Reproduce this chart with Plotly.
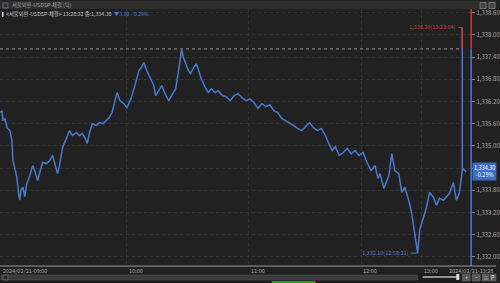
import plotly.graph_objects as go

# ---- data (tick sequence number vs. traded price) ----
tick_no = [0,2,3,5,7,10,12,13,15,17,19,20,21,23,25,27,30,33,35,38,40,43,47,50,53,55,58,60,63,66,70,73,77,80,83,86,88,90,93,97,100,104,107,110,113,116,118,121,125,128,132,135,137,140,143,145,148,150,153,155,157,160,163,166,170,173,177,180,183,185,187,190,192,195,198,200,203,207,210,213,217,220,224,228,232,236,240,244,248,252,256,260,264,268,272,276,280,284,288,292,296,300,304,308,312,316,320,324,328,331,335,338,342,346,350,354,358,362,366,370,374,378,381,383,387,390,392,395,398,402,405,408,412,415,418,421,423,427,430,433,437,440,443,447,450,453,457,460,463,466,466,466,470]
price = [1335.90,1335.95,1335.68,1335.74,1335.49,1335.41,1335.14,1334.60,1334.39,1334.15,1333.66,1333.53,1333.80,1333.88,1333.63,1333.98,1334.20,1334.47,1334.33,1334.06,1334.28,1334.55,1334.52,1334.60,1334.74,1334.55,1334.25,1334.47,1334.95,1335.14,1335.41,1335.28,1335.36,1335.28,1335.33,1335.20,1335.06,1335.33,1335.60,1335.55,1335.63,1335.60,1335.68,1335.76,1335.90,1336.22,1336.44,1336.22,1336.14,1336.03,1336.27,1336.54,1336.76,1337.03,1337.14,1337.25,1337.03,1336.92,1336.76,1336.63,1336.36,1336.49,1336.63,1336.44,1336.22,1336.36,1336.54,1337.03,1337.60,1337.38,1337.22,1337.03,1336.95,1337.11,1337.22,1337.03,1336.81,1336.57,1336.44,1336.54,1336.44,1336.49,1336.36,1336.33,1336.22,1336.36,1336.41,1336.30,1336.22,1336.27,1336.17,1336.01,1336.14,1336.06,1336.11,1335.95,1335.90,1335.74,1335.68,1335.63,1335.55,1335.47,1335.41,1335.52,1335.63,1335.49,1335.41,1335.47,1335.28,1335.09,1334.87,1334.98,1334.74,1334.82,1334.93,1334.79,1334.87,1334.74,1334.82,1334.55,1334.33,1334.47,1334.12,1334.25,1333.85,1334.06,1334.20,1334.79,1334.33,1334.25,1333.74,1333.88,1333.53,1333.18,1332.64,1332.10,1332.72,1333.07,1333.34,1333.74,1333.61,1333.39,1333.58,1333.53,1333.61,1333.71,1334.01,1333.53,1333.71,1334.33,1338.20,1334.39,1334.30]

base_price = 1337.62
high_price, high_tick, high_label = 1338.20, 466, "1,338.20(13:22:04)"
low_price, low_tick, low_label = 1332.10, 421, "1,332.10(12:58:21)"
last_price_text = "1,334.30"
last_pct_text = "-0.29%"
y_ticks = [1332.0, 1332.6, 1333.2, 1333.8, 1334.4, 1335.0, 1335.6, 1336.2, 1336.8, 1337.4, 1338.0, 1338.6]
x_tick_pos = [128, 251, 364, 425]
x_tick_txt = ["10:00", "11:00", "12:00", "13:00"]
x_first_label = "2024/02/21-09:00"
x_last_label = "2024/02/21-13:28"
title_txt = "서울외환-USDSP-체결 (틱)"
header_txt = "<서울외환-USDSP-체결> 13:28:32 종:1,334.30"
header_chg = "▼3.90  -0.29%"

W, H = 500, 283
def px(x): return x / W
def py(y): return 1 - y / H

BG = "#212121"
BLUE = "#4a7ad0"
RED = "#d23a3a"
TXT = "#a8a8a8"
FONT = "Noto Sans CJK KR, Noto Sans, sans-serif"

fig = go.Figure()
fig.add_trace(go.Scatter(x=tick_no, y=price, mode="lines",
                         line=dict(color=BLUE, width=1.5), hoverinfo="skip"))
fig.add_trace(go.Scatter(x=[high_tick, high_tick], y=[base_price, high_price], mode="lines",
                         line=dict(color=RED, width=1.5), hoverinfo="skip"))

shapes = []
shapes.append(dict(type="line", xref="x", yref="y", x0=0, x1=high_tick, y0=base_price, y1=base_price,
                   line=dict(color="#9a9a9a", width=1, dash="dot")))
shapes.append(dict(type="line", xref="paper", yref="y", x0=px(475), x1=px(475), y0=base_price, y1=1338.70,
                   line=dict(color=RED, width=1.5)))
shapes.append(dict(type="line", xref="paper", yref="y", x0=px(475), x1=px(475), y0=1331.75, y1=base_price,
                   line=dict(color=BLUE, width=1.5)))
shapes.append(dict(type="line", xref="paper", yref="paper", x0=0, x1=1, y0=py(266), y1=py(266),
                   line=dict(color="#9a9a9a", width=1)))
shapes.append(dict(type="line", xref="x", yref="y", x0=high_tick - 4, x1=high_tick, y0=high_price, y1=high_price,
                   line=dict(color=RED, width=1)))
shapes.append(dict(type="line", xref="x", yref="y", x0=low_tick - 7, x1=low_tick, y0=low_price, y1=low_price,
                   line=dict(color=BLUE, width=1)))
# title bar
shapes.append(dict(type="rect", xref="paper", yref="paper", x0=0, x1=1, y0=py(8), y1=1,
                   fillcolor="#2e2e2e", line=dict(width=0), layer="below"))
shapes.append(dict(type="rect", xref="paper", yref="paper", x0=px(3), x1=px(8), y0=py(7), y1=py(2),
                   fillcolor="rgba(0,0,0,0)", line=dict(color="#777", width=0.8)))
for x0 in (484, 493):
    shapes.append(dict(type="rect", xref="paper", yref="paper", x0=px(x0), x1=px(x0 + 6), y0=py(7.5), y1=py(1.5),
                       fillcolor="#444", line=dict(color="#999", width=0.6)))
shapes.append(dict(type="rect", xref="paper", yref="paper", x0=px(2), x1=px(3.5), y0=py(16), y1=py(11),
                   fillcolor="#ddd", line=dict(width=0)))
# bottom scroll strip
shapes.append(dict(type="rect", xref="paper", yref="paper", x0=0, x1=1, y0=0, y1=py(274),
                   fillcolor="#1c1c1c", line=dict(width=0), layer="below"))
shapes.append(dict(type="rect", xref="paper", yref="paper", x0=px(1), x1=px(421), y0=py(280), y1=py(275),
                   fillcolor="#3a3a3a", line=dict(color="#555", width=0.6)))
shapes.append(dict(type="rect", xref="paper", yref="paper", x0=px(3), x1=px(8), y0=py(280), y1=py(275),
                   fillcolor="#2a2a2a", line=dict(color="#888", width=0.6)))
shapes.append(dict(type="line", xref="paper", yref="paper", x0=px(426), x1=px(461), y0=py(277), y1=py(277),
                   line=dict(color="#bbb", width=1.5)))
shapes.append(dict(type="rect", xref="paper", yref="paper", x0=px(460), x1=px(463), y0=py(280), y1=py(274),
                   fillcolor="#ddd", line=dict(width=0)))
for x0, w in ((466, 8), (476, 8), (486, 7), (494, 6)):
    shapes.append(dict(type="rect", xref="paper", yref="paper", x0=px(x0), x1=px(x0 + w), y0=py(281), y1=py(274),
                       fillcolor="#555", line=dict(color="#777", width=0.5)))
shapes.append(dict(type="rect", xref="paper", yref="paper", x0=px(274), x1=px(318), y0=0, y1=py(281),
                   fillcolor="#1fa21f", line=dict(width=0)))

ann = []
ann.append(dict(xref="paper", yref="paper", x=px(10), y=py(4.5), text=title_txt, showarrow=False,
                xanchor="left", yanchor="middle", font=dict(size=5.3, color=TXT, family=FONT)))
ann.append(dict(xref="paper", yref="paper", x=px(4), y=py(13.5),
                text=header_txt + "  <span style='color:#4a78d8'>" + header_chg + "</span>", showarrow=False,
                xanchor="left", yanchor="middle", font=dict(size=5.3, color="#c8c8c8", family=FONT)))
ann.append(dict(xref="x", yref="y", x=high_tick - 4, y=high_price, text=high_label, showarrow=False,
                xanchor="right", yanchor="middle", font=dict(size=5.5, color=RED, family=FONT)))
ann.append(dict(xref="x", yref="y", x=low_tick - 7, y=low_price, text=low_label, showarrow=False,
                xanchor="right", yanchor="middle", font=dict(size=5.5, color="#5a7fbf", family=FONT)))
ann.append(dict(xref="paper", yref="paper", x=px(488), y=py(171.5),
                text=last_price_text + "<br>" + last_pct_text, showarrow=False,
                xanchor="center", yanchor="middle", bgcolor="#3b6cc0", borderpad=1,
                font=dict(size=5.5, color="#ffffff", family=FONT)))
ann.append(dict(xref="x", yref="paper", x=1, y=py(270.5), text=x_first_label, showarrow=False,
                xanchor="left", yanchor="middle", font=dict(size=5.5, color=TXT, family=FONT)))
ann.append(dict(xref="paper", yref="paper", x=px(499), y=py(270.5), text=x_last_label, showarrow=False,
                xanchor="right", yanchor="middle", font=dict(size=5.5, color=TXT, family=FONT)))
for xp, t in zip(x_tick_pos, x_tick_txt):
    ann.append(dict(xref="x", yref="paper", x=xp, y=py(270.5), text=t, showarrow=False,
                    xanchor="left", yanchor="middle", font=dict(size=5.5, color=TXT, family=FONT)))
for x0, t in ((470, "+"), (480, "−"), (489.5, "≡"), (497, "P")):
    ann.append(dict(xref="paper", yref="paper", x=px(x0), y=py(277.5), text=t, showarrow=False,
                    xanchor="center", yanchor="middle", font=dict(size=5.5, color="#eee", family=FONT)))

fig.update_layout(
    width=W, height=H, margin=dict(l=0, r=0, t=0, b=0),
    paper_bgcolor=BG, plot_bgcolor=BG, showlegend=False,
    shapes=shapes, annotations=ann,
    xaxis=dict(domain=[0, 0.95], range=[0, 475], tickvals=x_tick_pos, showticklabels=False,
               showgrid=True, gridcolor="#343434", griddash="dot", gridwidth=1, zeroline=False,
               showline=False, ticks=""),
    yaxis=dict(domain=[py(266), py(8)], range=[1331.75, 1338.70], side="right",
               tickvals=y_ticks,
               ticktext=["" if abs(v - 1334.4) < 1e-6 else f"{v:,.2f}" for v in y_ticks],
               showgrid=True, gridcolor="#343434", griddash="dot", gridwidth=1, zeroline=False,
               ticks="outside", ticklen=3, tickcolor="#888", showline=False,
               tickfont=dict(size=6, color=TXT, family=FONT)),
)
fig.write_html("out.html")
